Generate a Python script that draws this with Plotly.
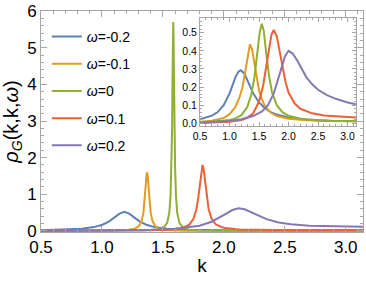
import plotly.graph_objects as go

# ---------------- data ----------------
labels = ["<i>ω</i>=-0.2", "<i>ω</i>=-0.1", "<i>ω</i>=0", "<i>ω</i>=0.1", "<i>ω</i>=0.2"]
colors = ["#5E81B5", "#E19C24", "#8FB032", "#EB6235", "#8778B3"]

# main panel
k_m1 = [0.5, 0.684, 0.834, 0.934, 1.004, 1.059, 1.104, 1.144, 1.184, 1.224, 1.264, 1.309, 1.364, 1.434, 1.534, 1.684, 2.184, 3.1416]
r_m1 = [0.0168, 0.0306, 0.059, 0.104, 0.169, 0.26, 0.369, 0.472, 0.52, 0.472, 0.369, 0.26, 0.169, 0.104, 0.059, 0.0306, 0.008, 0.0021]

k_m2 = [0.5, 0.77, 1.07, 1.21, 1.27, 1.3, 1.325, 1.34, 1.35, 1.36, 1.365, 1.37, 1.375, 1.38, 1.39, 1.4, 1.415, 1.44, 1.47, 1.53, 1.67, 1.97, 3.1416]
r_m2 = [0.0006, 0.0018, 0.0071, 0.0246, 0.0615, 0.121, 0.264, 0.492, 0.8, 1.28, 1.506, 1.6, 1.506, 1.28, 0.8, 0.492, 0.264, 0.121, 0.0615, 0.0246, 0.0071, 0.0018, 0.0003]

k_m3 = [0.5, 1.0, 1.335, 1.455, 1.505, 1.535, 1.553, 1.563, 1.57, 1.576, 1.579, 1.582, 1.585, 1.588, 1.591, 1.595, 1.6, 1.607, 1.617, 1.635, 1.665, 1.715, 1.835, 2.2, 3.1416]
r_m3 = [0.0005, 0.002, 0.009, 0.0335, 0.088, 0.219, 0.507, 0.976, 1.75, 2.85, 4.19, 5.23, 5.7, 5.23, 4.19, 2.85, 1.75, 0.976, 0.507, 0.219, 0.088, 0.0335, 0.009, 0.002, 0.001]

k_m4 = [0.5, 1.2, 1.525, 1.655, 1.715, 1.75, 1.775, 1.79, 1.805, 1.815, 1.825, 1.835, 1.845, 1.86, 1.875, 1.9, 1.935, 1.995, 2.125, 2.4, 2.8, 3.1416]
r_m4 = [0.0013, 0.006, 0.024, 0.073, 0.165, 0.322, 0.592, 0.9, 1.357, 1.664, 1.8, 1.664, 1.357, 0.9, 0.592, 0.33, 0.175, 0.085, 0.04, 0.028, 0.025, 0.025]

k_m5 = [0.5, 0.9, 1.2, 1.4, 1.6, 1.7, 1.8, 1.9, 1.96, 2.02, 2.07, 2.12, 2.17, 2.22, 2.28, 2.35, 2.45, 2.55, 2.7, 2.9, 3.1416]
r_m5 = [0.004, 0.01, 0.02, 0.032, 0.06, 0.09, 0.14, 0.25, 0.35, 0.47, 0.57, 0.62, 0.59, 0.52, 0.42, 0.32, 0.23, 0.18, 0.14, 0.12, 0.11]

# inset panel
k_i1 = [0.5, 0.6, 0.7, 0.8, 0.9, 1.0, 1.05, 1.1, 1.15, 1.19, 1.25, 1.3, 1.35, 1.4, 1.5, 1.6, 1.7, 1.8, 2.0, 2.3, 2.7, 3.1416]
r_i1 = [0.022, 0.03, 0.042, 0.062, 0.10, 0.165, 0.21, 0.255, 0.285, 0.293, 0.275, 0.24, 0.2, 0.165, 0.115, 0.083, 0.062, 0.048, 0.032, 0.021, 0.014, 0.011]

k_i2 = [0.5, 0.7, 0.9, 1.0, 1.1, 1.17, 1.22, 1.27, 1.31, 1.345, 1.38, 1.42, 1.46, 1.5, 1.55, 1.6, 1.7, 1.8, 2.0, 2.3, 2.7, 3.1416]
r_i2 = [0.008, 0.014, 0.03, 0.05, 0.09, 0.145, 0.2, 0.29, 0.38, 0.435, 0.41, 0.33, 0.245, 0.18, 0.13, 0.095, 0.058, 0.04, 0.025, 0.017, 0.013, 0.011]

k_i3 = [0.5, 0.8, 1.0, 1.1, 1.2, 1.3, 1.37, 1.42, 1.47, 1.51, 1.545, 1.58, 1.62, 1.67, 1.72, 1.8, 1.9, 2.0, 2.2, 2.5, 2.8, 3.1416]
r_i3 = [0.004, 0.01, 0.018, 0.027, 0.045, 0.09, 0.16, 0.25, 0.38, 0.5, 0.55, 0.51, 0.39, 0.26, 0.17, 0.1, 0.06, 0.042, 0.025, 0.016, 0.013, 0.012]

k_i4 = [0.5, 0.8, 1.0, 1.2, 1.3, 1.4, 1.5, 1.57, 1.62, 1.67, 1.71, 1.75, 1.8, 1.85, 1.9, 1.95, 2.0, 2.1, 2.2, 2.4, 2.6, 2.9, 3.1416]
r_i4 = [0.002, 0.005, 0.009, 0.018, 0.03, 0.055, 0.12, 0.21, 0.3, 0.41, 0.49, 0.515, 0.48, 0.39, 0.3, 0.225, 0.17, 0.11, 0.08, 0.055, 0.043, 0.035, 0.032]

k_i5 = [0.5, 0.8, 1.0, 1.2, 1.4, 1.55, 1.65, 1.75, 1.82, 1.88, 1.94, 2.0, 2.07, 2.14, 2.22, 2.3, 2.4, 2.5, 2.65, 2.8, 3.0, 3.1416]
r_i5 = [0.003, 0.008, 0.013, 0.022, 0.04, 0.065, 0.1, 0.165, 0.24, 0.31, 0.37, 0.40, 0.385, 0.35, 0.3, 0.255, 0.215, 0.185, 0.155, 0.135, 0.115, 0.105]

main_k = [k_m1, k_m2, k_m3, k_m4, k_m5]
main_r = [r_m1, r_m2, r_m3, r_m4, r_m5]
ins_k = [k_i1, k_i2, k_i3, k_i4, k_i5]
ins_r = [r_i1, r_i2, r_i3, r_i4, r_i5]

x_ticks = [0.5, 1.0, 1.5, 2.0, 2.5, 3.0]
x_ticktext = ["0.5", "1.0", "1.5", "2.0", "2.5", "3.0"]
y_ticks_main = [0, 1, 2, 3, 4, 5, 6]
y_ticks_ins = [0.0, 0.1, 0.2, 0.3, 0.4, 0.5]
y_ticktext_ins = ["0.0", "0.1", "0.2", "0.3", "0.4", "0.5"]

# ---------------- figure ----------------
FONT = "Liberation Sans"
fig = go.Figure()

for i in range(5):
    fig.add_trace(go.Scatter(x=main_k[i], y=main_r[i], mode="lines", name=labels[i],
                             line=dict(color=colors[i], width=2),
                             legendgroup=f"g{i}", xaxis="x", yaxis="y"))
for i in range(5):
    fig.add_trace(go.Scatter(x=ins_k[i], y=ins_r[i], mode="lines", showlegend=False,
                             line=dict(color=colors[i], width=2),
                             xaxis="x2", yaxis="y2"))

frame = "#a6a6a6"
common = dict(showline=True, linecolor=frame, linewidth=1, mirror="ticks",
              ticks="inside", tickcolor=frame, showgrid=False, zeroline=False,
              ticklabeloverflow="allow")

fig.update_layout(
    width=366, height=282,
    margin=dict(l=41, r=2, t=8, b=50),
    paper_bgcolor="white", plot_bgcolor="white",
    font=dict(family=FONT, color="black"),
    showlegend=True,
    legend=dict(x=0.018, y=0.955, xanchor="left", yanchor="top",
                bgcolor="rgba(0,0,0,0)", font=dict(size=14, family=FONT),
                tracegroupgap=6, itemwidth=30),
    xaxis=dict(domain=[0, 1], range=[0.5, 3.1416], tickvals=x_ticks, ticktext=x_ticktext,
               ticklen=6, tickfont=dict(size=17),
               minor=dict(dtick=0.1, ticklen=3, tickcolor=frame, ticks="inside"),
               title=dict(text="k", font=dict(size=19), standoff=2), **common),
    yaxis=dict(domain=[0, 1], range=[-0.03, 6.003], tickvals=y_ticks_main,
               ticklen=6, tickfont=dict(size=17),
               minor=dict(dtick=0.2, ticklen=3, tickcolor=frame, ticks="inside"),
               title=dict(text="<i>ρ</i><sub><i>G</i></sub>(k,k,<i>ω</i>)",
                          font=dict(size=20), standoff=5), **common),
    xaxis2=dict(domain=[0.494, 0.978], anchor="y2", range=[0.5, 3.1416],
                tickvals=x_ticks, ticktext=x_ticktext,
                ticklen=4, tickfont=dict(size=10.5),
                minor=dict(dtick=0.1, ticklen=2, tickcolor=frame, ticks="inside"), **common),
    yaxis2=dict(domain=[0.478, 0.969], anchor="x2", range=[-0.017, 0.582],
                tickvals=y_ticks_ins, ticktext=y_ticktext_ins,
                ticklen=4, tickfont=dict(size=10.5),
                minor=dict(dtick=0.02, ticklen=2, tickcolor=frame, ticks="inside"), **common),
)

fig.write_html("out.html", config={"displayModeBar": False},
               post_script="document.body.style.margin='0';document.body.style.padding='0';")
